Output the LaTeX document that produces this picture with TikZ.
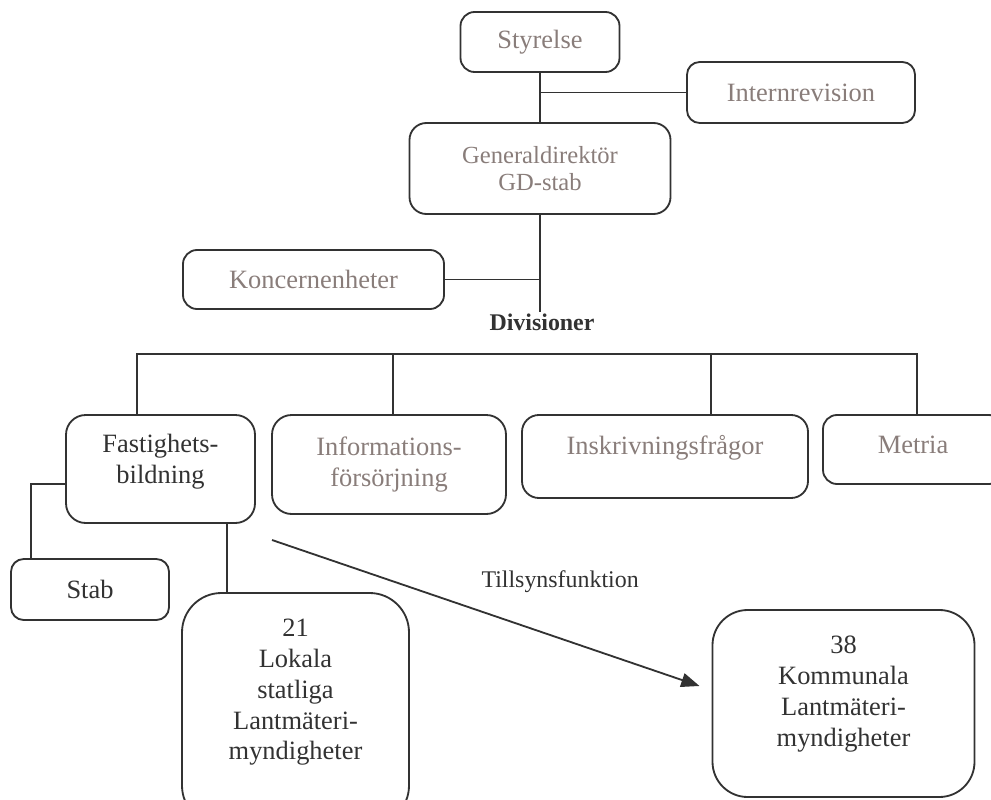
\documentclass[tikz,border=0pt]{standalone}
\usepackage{fontspec}
\setmainfont{Liberation Serif}
\usetikzlibrary{positioning, calc, arrows.meta}

\definecolor{boxtext}{RGB}{137,125,122}
\definecolor{linegray}{RGB}{50,50,50}
\newcommand{\px}{0.025cm}

\begin{document}
\begin{tikzpicture}[
  x=\px, y=-\px,
  org/.style={rectangle, draw=linegray, line width=1.3pt, inner sep=0pt, outer sep=0pt, align=center, font=\fontsize{18.8}{22}\selectfont},
  dim/.style={text=boxtext},
  dark/.style={text=linegray},
  conn/.style={draw=linegray, line width=1.3pt},
  arrow/.style={conn, -{Triangle[length=13pt, width=10pt]}}
]
\clip (0,0) rectangle (991,800);

%--------------------------------------
% Top management
%--------------------------------------
\node[org, dim, rounded corners=10pt, minimum width=159*\px, minimum height=60*\px] (styrelse) at (540,42) {Styrelse};
\node[org, dim, rounded corners=9pt, minimum width=228*\px, minimum height=61*\px] (internrev) at (801,92.5) {Internrevision};
\node[org, dim, rounded corners=12pt, minimum width=261*\px, minimum height=91*\px, font=\fontsize{17.5}{19}\selectfont] (gd) at (540,168.5) {Generaldirektör\\GD-stab};
\node[org, dim, rounded corners=10pt, minimum width=261*\px, minimum height=59*\px] (koncern) at (313.5,279.5) {Koncernenheter};
\node[text=linegray, inner sep=1pt, font=\bfseries\fontsize{17}{20}\selectfont] (divisioner) at (542,322) {Divisioner};

%--------------------------------------
% Divisions
%--------------------------------------
\coordinate (bus) at (0,354);
\node[org, dark, rounded corners=14pt, minimum width=189*\px, minimum height=108*\px, text depth=14pt] (fastighet) at (160.5,469) {Fastighets-\\bildning};
\node[org, dim, rounded corners=14pt, minimum width=234*\px, minimum height=99*\px] (informations) at (389,464.5) {Informations-\\försörjning};
\node[org, dim, rounded corners=12pt, minimum width=286*\px, minimum height=83*\px, text depth=16pt] (inskrivning) at (665,456.5) {Inskrivningsfrågor};
\node[org, dim, rounded corners=10pt, minimum width=180*\px, minimum height=69*\px, text depth=7pt] (metria) at (913,449.5) {Metria};

%--------------------------------------
% Under Fastighetsbildning
%--------------------------------------
\node[org, dark, rounded corners=9pt, minimum width=158*\px, minimum height=61*\px] (stab) at (90,589.5) {Stab};
\node[org, dark, rounded corners=28pt, minimum width=227*\px, minimum height=232*\px, text depth=28pt] (lokala) at (295.5,709) {21\\Lokala\\statliga\\Lantmäteri-\\myndigheter};
\node[org, dark, rounded corners=25pt, minimum width=262*\px, minimum height=187*\px, text depth=18pt] (kommunala) at (843.5,703.5) {38\\Kommunala\\Lantmäteri-\\myndigheter};

%--------------------------------------
% Connections
%--------------------------------------
\draw[conn] (styrelse.south) -- (gd.north);
\draw[conn] (internrev.west) -- (internrev.west -| styrelse.south);
\draw[conn] (gd.south) -- (gd.south |- divisioner.north);
\draw[conn] (koncern.east) -- (koncern.east -| gd.south);

\path ([xshift=-23.5*\px]fastighet.north) coordinate (f-top)
      ([xshift=4*\px]informations.north) coordinate (i-top)
      ([xshift=46*\px]inskrivning.north) coordinate (s-top)
      ([xshift=4*\px]metria.north) coordinate (m-top);
\draw[conn] (f-top) |- (m-top |- bus) -- (m-top);
\draw[conn] (i-top) -- (i-top |- bus);
\draw[conn] (s-top) -- (s-top |- bus);

\draw[conn] ([yshift=-15*\px]fastighet.west) -| ([xshift=-59*\px]stab.north);
\coordinate (f-down) at ([xshift=66.5*\px]fastighet.south);
\draw[conn] (f-down) -- (f-down |- lokala.north);

% Supervision
\draw[arrow] ([shift={(17,17)}]fastighet.south east) -- node[pos=0.674, yshift=40pt, text=linegray, font=\fontsize{17}{20}\selectfont] (tillsyn) {Tillsynsfunktion} ([shift={(-13,-17.5)}]kommunala.west);

\end{tikzpicture}
\end{document}
